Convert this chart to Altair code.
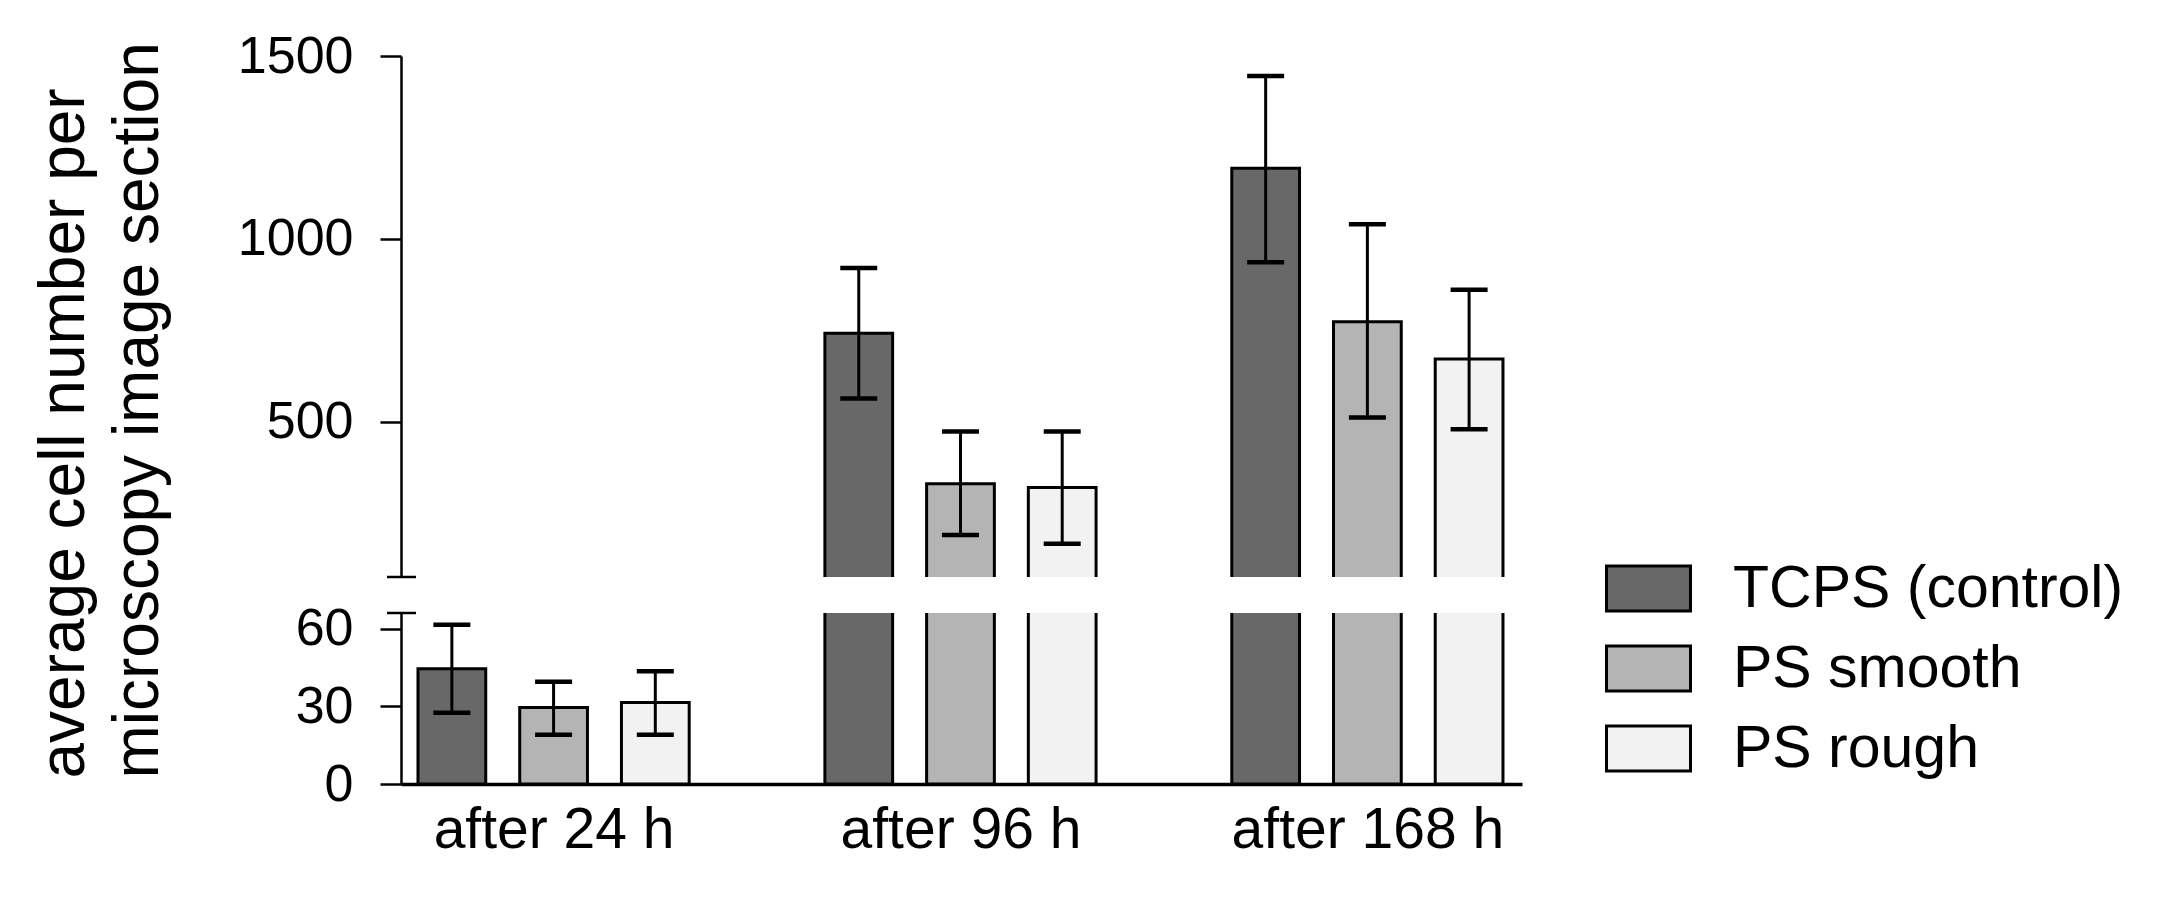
import altair as alt
import pandas as pd

# ---- data ----
groups = ["after 24 h", "after 96 h", "after 168 h"]
surfaces = ["TCPS (control)", "PS smooth", "PS rough"]
colors = ["#686868", "#b4b4b4", "#f2f2f2"]

mean_24 = [44.5, 29.5, 31.5]
low_24 = [27.5, 19.0, 19.0]
high_24 = [61.5, 39.5, 43.5]

mean_96 = [742, 330, 320]
low_96 = [563, 190, 166]
high_96 = [920, 473, 473]

mean_168 = [1193, 773, 671]
low_168 = [936, 511, 479]
high_168 = [1445, 1040, 861]

upper_ticks = [500, 1000, 1500]
lower_ticks = [0, 30, 60]
lower_max = 66      # top of the lower (broken) segment
upper_min = 75      # bottom of the upper segment
upper_max = 1500

means = [mean_24, mean_96, mean_168]
lows = [low_24, low_96, low_168]
highs = [high_24, high_96, high_168]

rows = []
for gi, g in enumerate(groups):
    for si, s in enumerate(surfaces):
        slot = gi * 4 + si
        rows.append(dict(group=g, surface=s, slot=slot, x1=slot - 0.333, x2=slot + 0.333,
                         mean=means[gi][si], lo=lows[gi][si], hi=highs[gi][si], base=0))
df = pd.DataFrame(rows)

FONT = "Liberation Sans"
xs = alt.Scale(domain=[-0.5, 10.52], nice=False, zero=False)

label_expr = " : ".join(
    [f"datum.value == {gi * 4 + 1} ? '{g}'" for gi, g in enumerate(groups)] + ["''"]
)

x_axis = alt.Axis(values=[1, 5, 9], labelExpr=label_expr, ticks=False, tickSize=0, grid=False,
                  domainColor="black", domainWidth=3.5, labelFontSize=57, labelFont=FONT,
                  labelColor="black", labelPadding=18, title=None, labelFlush=False,
                  labelLimit=500)

color = alt.Color("surface:N", scale=alt.Scale(domain=surfaces, range=colors),
                  legend=alt.Legend(title=None))


def y_axis(ticks, title):
    kw = dict(values=ticks, format="d", grid=False, domainColor="black", domainWidth=2.5,
              tickColor="black", tickWidth=2.5, tickSize=21, labelFontSize=52, labelFont=FONT,
              labelColor="black", labelPadding=27)
    if title:
        kw.update(title=["average cell number per", "microscopy image section"], titleFontSize=64,
                  titleFont=FONT, titleFontWeight="normal", titleColor="black", titleLineHeight=74,
                  titlePadding=67, titleY=722, titleAlign="left")
    else:
        kw.update(title=None)
    return alt.Axis(**kw)


def panel(domain, height, ticks, title, cap_value, show_x):
    ys = alt.Scale(domain=domain, nice=False, zero=False)
    ya = y_axis(ticks, title)
    xa = x_axis if show_x else None
    base = alt.Chart(df)
    bars = base.mark_bar(stroke="black", strokeWidth=3, clip=True).encode(
        x=alt.X("x1:Q", scale=xs, axis=xa), x2="x2:Q",
        y=alt.Y("mean:Q", scale=ys, axis=ya), y2="base:Q",
        color=color)
    err = base.mark_rule(color="black", strokeWidth=3, clip=True).encode(
        x=alt.X("slot:Q", scale=xs, axis=xa), y=alt.Y("lo:Q", scale=ys, axis=ya), y2="hi:Q")
    cap_lo = base.mark_tick(color="black", orient="horizontal", size=37, thickness=4.5,
                            opacity=1, clip=True).encode(
        x=alt.X("slot:Q", scale=xs, axis=xa), y=alt.Y("lo:Q", scale=ys, axis=ya))
    cap_hi = base.mark_tick(color="black", orient="horizontal", size=37, thickness=4.5,
                            opacity=1, clip=True).encode(
        x=alt.X("slot:Q", scale=xs, axis=xa), y=alt.Y("hi:Q", scale=ys, axis=ya))
    brk = alt.Chart(pd.DataFrame({"v": [cap_value]})).mark_rule(
        color="black", strokeWidth=2.5).encode(
        y=alt.Y("v:Q", scale=ys, axis=ya), x=alt.value(-14), x2=alt.value(15))
    return alt.layer(bars, err, cap_lo, cap_hi, brk).properties(width=1121, height=height)


upper = panel([upper_min, upper_max], 521, upper_ticks, True, upper_min, False)
lower = panel([0, lower_max], 171, lower_ticks, False, lower_max, True)

chart = alt.vconcat(upper, lower, spacing=36).properties(
    bounds="flush",
    padding={"left": 24, "top": 22, "right": 10, "bottom": 10},
).configure_view(stroke=None).configure_legend(
    orient="none", legendX=1204, legendY=489,
    symbolType="M-1,-0.536H1V0.536H-1Z", symbolSize=7056,
    symbolStrokeColor="black", symbolStrokeWidth=3, symbolOpacity=1,
    labelFontSize=59, labelFont=FONT, labelColor="black", labelOffset=41,
    rowPadding=6, labelLimit=600,
)

chart.save("out.html", embed_options={"renderer": "svg", "actions": False})
